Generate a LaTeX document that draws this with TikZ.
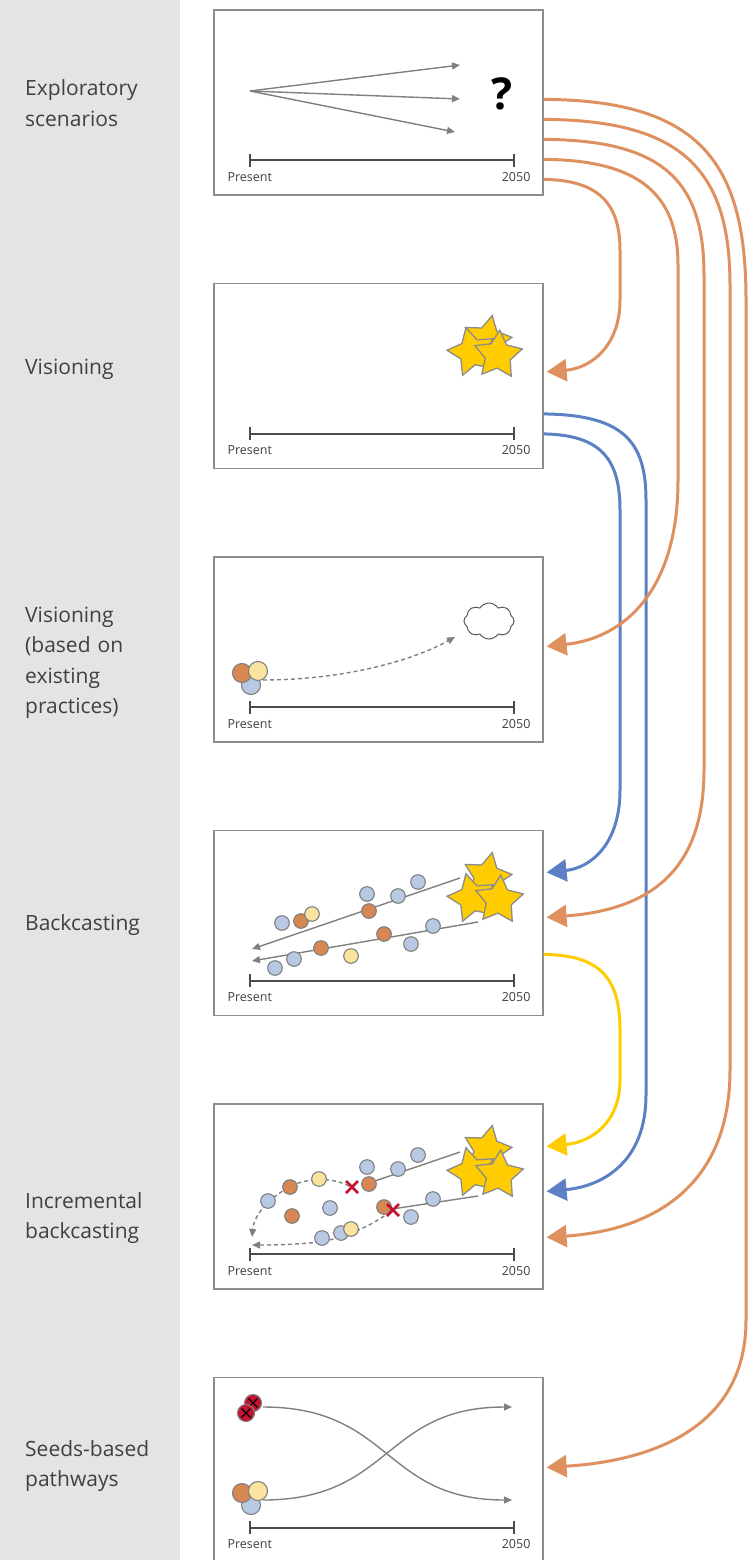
\documentclass[tikz,border=0pt]{standalone}
\usepackage{fontspec}
\setmainfont{Open Sans}
\usetikzlibrary{arrows.meta,shapes.geometric,shapes.symbols}

\begin{document}
\begin{tikzpicture}[x=1pt,y=-1pt]
    % Define colour palette
    \definecolor{bandgrey}{RGB}{228,228,228}
    \definecolor{frame}{RGB}{140,140,140}
    \definecolor{floworange}{RGB}{222,145,95}
    \definecolor{flowblue}{RGB}{92,128,196}
    \definecolor{flowyellow}{RGB}{255,204,0}
    \definecolor{dotorange}{RGB}{214,135,82}
    \definecolor{dotblue}{RGB}{184,201,228}
    \definecolor{dotyellow}{RGB}{250,228,160}
    \definecolor{stargold}{RGB}{255,204,0}
    \definecolor{seedred}{RGB}{196,18,48}

    % Define styles
    \tikzset{
        panel/.style={
            draw=frame,
            fill=white,
            line width=1.2pt,
            minimum width=329pt,
            minimum height=185pt,
            inner sep=0pt
        },
        method/.style={
            anchor=base west,
            text width=150pt,
            align=left,
            inner sep=0pt,
            text=black!75,
            font=\fontsize{21}{30.5}\selectfont
        },
        axis/.style={
            line width=2pt,
            black!70,
            {Bar[width=13pt]}-{Bar[width=13pt]}
        },
        ticklabel/.style={
            inner sep=0pt,
            text=black!75,
            font=\fontsize{12.5}{14}\selectfont
        },
        pict/.style={
            line width=1.4pt,
            black!50,
            -{Triangle[length=8pt,width=7pt]}
        },
        pictdash/.style={
            pict,
            dash pattern=on 4pt off 3pt
        },
        dot/.style={
            draw=black!50,
            line width=1.1pt
        },
        gold/.style={
            star,
            star points=5,
            star point ratio=1.9,
            minimum size=50pt,
            inner sep=0pt,
            draw=black!45,
            fill=stargold,
            line width=1.3pt
        },
        cross/.style={
            seedred,
            line width=2.6pt
        },
        flow/.style={
            line width=3pt,
            -{Triangle[length=20pt,width=22pt]}
        }
    }

    \useasboundingbox (0,0) rectangle (749,1560);
    \clip (0,0) rectangle (749,1560);

    % Grey band with method names
    \fill[bandgrey] (0,0) rectangle (180,1560);
    \node[method] (explore) at (25,96) {Exploratory\\scenarios};
    \node[method] (vision) at (25,374) {Visioning};
    \node[method] (practice) at (25,622) {Visioning\\(based on\\existing\\practices)};
    \node[method] (backcast) at (25,930) {Backcasting};
    \node[method] (increment) at (25,1208) {Incremental\\backcasting};
    \node[method] (seeds) at (25,1456) {Seeds-based\\pathways};

    % Panels
    \node[panel] (p1) at (378.5,102.5) {};
    \node[panel] (p2) at (378.5,376) {};
    \node[panel] (p3) at (378.5,649.5) {};
    \node[panel] (p4) at (378.5,923) {};
    \node[panel] (p5) at (378.5,1196.5) {};
    \node[panel] (p6) at (378.5,1470) {};

    % Time axis in every panel
    \foreach \p in {p1,p2,p3,p4,p5,p6} {
        \draw[axis] ([xshift=36pt,yshift=-151pt]\p.north west) -- ([xshift=-29pt,yshift=-151pt]\p.north east);
        \node[ticklabel, anchor=base west] (\p now) at ([xshift=14pt,yshift=-172pt]\p.north west) {Present};
        \node[ticklabel, anchor=base east] (\p end) at ([xshift=-13pt,yshift=-172pt]\p.north east) {2050};
    }

    % Exploratory scenarios
    \draw[pict] (250,91) -- (460,65);
    \draw[pict] (250,91) -- (460,99);
    \draw[pict] (250,91) -- (455,132);
    \node[font=\fontsize{44}{44}\selectfont\bfseries] (unknown) at (502,94) {?};

    % Visioning
    \node[gold, rotate=-12] (s2a) at (487,340) {};
    \node[gold, rotate=14] (s2b) at (472,352) {};
    \node[gold, rotate=-4] (s2c) at (498,355) {};

    % Visioning based on existing practices
    \node[cloud, cloud puffs=8, cloud puff arc=115, aspect=1.4, draw=black!65, fill=white, line width=1pt,
          minimum width=50pt, minimum height=36pt, inner sep=0pt] (dream) at (489,621) {};
    \draw[pictdash] (263,680) .. controls (340,680) and (410,662) .. (455,637);
    \draw[dot, fill=dotblue] (251,685) circle (9.5pt);
    \draw[dot, fill=dotorange] (242,673) circle (9.5pt);
    \draw[dot, fill=dotyellow] (258,671) circle (9.5pt);

    % Backcasting
    \draw[pict] (460,878) -- (252,949);
    \draw[pict] (478,922) -- (252,961);
    \foreach \x/\y in {282/923,367/894,398/896,418/882,433/926,411/944,294/959,275/968}
        \draw[dot, fill=dotblue] (\x,\y) circle (7.3pt);
    \foreach \x/\y in {301/921,369/911,384/934,321/948}
        \draw[dot, fill=dotorange] (\x,\y) circle (7.3pt);
    \foreach \x/\y in {312/914,351/956}
        \draw[dot, fill=dotyellow] (\x,\y) circle (7.3pt);
    \node[gold, rotate=-12] (s4a) at (487,877) {};
    \node[gold, rotate=14] (s4b) at (472,898) {};
    \node[gold, rotate=-4] (s4c) at (499,900) {};

    % Incremental backcasting
    \draw[pict, -] (460,1152) -- (372,1182);
    \draw[pict, -] (478,1196) -- (392,1209);
    \draw[pictdash] (349,1186) .. controls (330,1176) and (302,1178) .. (286,1189)
        .. controls (266,1201) and (254,1216) .. (252,1237);
    \draw[pictdash] (390,1212) .. controls (368,1228) and (338,1241) .. (310,1243)
        .. controls (285,1245) and (266,1245) .. (252,1245);
    \foreach \x/\y in {268/1201,330/1208,367/1167,398/1169,418/1155,433/1199,411/1217,322/1238,341/1233}
        \draw[dot, fill=dotblue] (\x,\y) circle (7.3pt);
    \foreach \x/\y in {290/1187,292/1216,369/1184,384/1207}
        \draw[dot, fill=dotorange] (\x,\y) circle (7.3pt);
    \foreach \x/\y in {319/1179,351/1229}
        \draw[dot, fill=dotyellow] (\x,\y) circle (7.3pt);
    \draw[cross] (346,1181) -- (358,1193) (346,1193) -- (358,1181);
    \draw[cross] (387,1204) -- (399,1216) (387,1216) -- (399,1204);
    \node[gold, rotate=-12] (s5a) at (487,1150) {};
    \node[gold, rotate=14] (s5b) at (472,1172) {};
    \node[gold, rotate=-4] (s5c) at (499,1175) {};

    % Seeds-based pathways
    \draw[pict] (263,1407) .. controls (392,1407) and (383,1500) .. (512,1500);
    \draw[pict] (263,1500) .. controls (392,1500) and (383,1407) .. (512,1407);
    \foreach \x/\y in {253/1403,246/1413} {
        \draw[dot, fill=seedred] (\x,\y) circle (8.5pt);
        \draw[line width=1.3pt] (\x-4.5,\y-4.5) -- (\x+4.5,\y+4.5) (\x-4.5,\y+4.5) -- (\x+4.5,\y-4.5);
    }
    \draw[dot, fill=dotblue] (251,1505) circle (9.5pt);
    \draw[dot, fill=dotorange] (242,1493) circle (9.5pt);
    \draw[dot, fill=dotyellow] (258,1491) circle (9.5pt);

    % Blue links from visioning
    \draw[flow, flowblue] ([yshift=-131pt]p2.north east) .. controls (622,415) and (646,440) .. (646,500)
        -- (646,1095) .. controls (646,1160) and (605,1186) .. ([xshift=3pt,yshift=-88pt]p5.north east);
    \draw[flow, flowblue] ([yshift=-151pt]p2.north east) .. controls (600,435) and (620,458) .. (620,510)
        -- (620,790) .. controls (620,845) and (590,868) .. ([xshift=3pt,yshift=-42.5pt]p4.north east);

    % Orange links from exploratory scenarios
    \draw[flow, floworange] ([yshift=-170pt]p1.north east) .. controls (600,180) and (620,205) .. (620,250)
        -- (620,300) .. controls (620,345) and (592,368) .. ([xshift=3pt,yshift=-89pt]p2.north east);
    \draw[flow, floworange] ([yshift=-150pt]p1.north east) .. controls (640,160) and (678,195) .. (678,265)
        -- (678,480) .. controls (678,590) and (625,638) .. ([xshift=3pt,yshift=-90pt]p3.north east);
    \draw[flow, floworange] ([yshift=-130pt]p1.north east) .. controls (662,140) and (704,180) .. (704,275)
        -- (704,770) .. controls (704,875) and (645,910) .. ([xshift=3pt,yshift=-87.5pt]p4.north east);
    \draw[flow, floworange] ([yshift=-110pt]p1.north east) .. controls (682,120) and (730,170) .. (730,285)
        -- (730,1070) .. controls (730,1185) and (655,1230) .. ([xshift=3pt,yshift=-134pt]p5.north east);
    \draw[flow, floworange] ([yshift=-90pt]p1.north east) .. controls (702,100) and (746,165) .. (746,300)
        -- (746,1320) .. controls (746,1420) and (665,1460) .. ([xshift=3pt,yshift=-90.5pt]p6.north east);

    % Yellow link from backcasting
    \draw[flow, flowyellow] ([yshift=-124.5pt]p4.north east) .. controls (600,955) and (620,978) .. (620,1030)
        -- (620,1080) .. controls (620,1122) and (592,1142) .. ([xshift=3pt,yshift=-43pt]p5.north east);

\end{tikzpicture}
\end{document}
